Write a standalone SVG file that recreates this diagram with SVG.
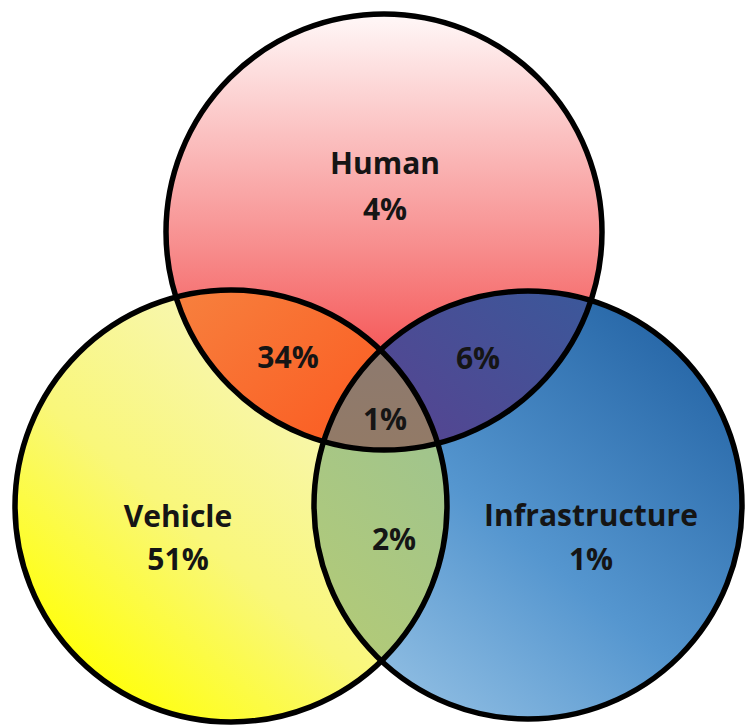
<svg xmlns="http://www.w3.org/2000/svg" width="745" height="725" viewBox="0 0 745 725">
<style>
.lbl{font-family:"Open Sans","Liberation Sans",sans-serif;font-weight:bold;font-size:30px;fill:#151515;text-anchor:middle}
.ring{fill:none;stroke:#000;stroke-width:5.5}
</style>
<defs>
<linearGradient id="gH" x1="0" y1="0" x2="0" y2="1">
<stop offset="0" stop-color="#fff8f8"/><stop offset="0.55" stop-color="#f78a8a"/><stop offset="1" stop-color="#f42a2a"/>
</linearGradient>
<linearGradient id="gV" x1="0.85" y1="0.15" x2="0.2" y2="0.9">
<stop offset="0" stop-color="#f7f6c8"/><stop offset="0.6" stop-color="#f9f77a"/><stop offset="1" stop-color="#ffff10"/>
</linearGradient>
<linearGradient id="gI" x1="0.85" y1="0.15" x2="0.2" y2="0.95">
<stop offset="0" stop-color="#2a6aaa"/><stop offset="0.55" stop-color="#5596cf"/><stop offset="1" stop-color="#8fbde2"/>
</linearGradient>
<linearGradient id="gHV" x1="0" y1="0" x2="0.8" y2="1">
<stop offset="0" stop-color="#f5904a"/><stop offset="1" stop-color="#ff3a08"/>
</linearGradient>
<linearGradient id="gHI" x1="1" y1="0" x2="0.2" y2="1">
<stop offset="0" stop-color="#30609e"/><stop offset="1" stop-color="#6e3288"/>
</linearGradient>
<linearGradient id="gVI" x1="1" y1="0" x2="0" y2="1">
<stop offset="0" stop-color="#86bcae"/><stop offset="1" stop-color="#b8cc70"/>
</linearGradient>
<linearGradient id="gHVI" x1="0" y1="0" x2="0" y2="1">
<stop offset="0" stop-color="#8a7a74"/><stop offset="0.7" stop-color="#9a7a5a"/><stop offset="1" stop-color="#8a9a80"/>
</linearGradient>
<clipPath id="cH"><circle cx="384" cy="232" r="218"/></clipPath>
<clipPath id="cV"><circle cx="231" cy="506" r="216"/></clipPath>
<clipPath id="cI"><circle cx="528" cy="505" r="214"/></clipPath>
</defs>
<rect width="745" height="725" fill="#fff"/>
<g id="vehicle"><circle cx="231" cy="506" r="216" fill="url(#gV)"/></g>
<g id="infrastructure"><circle cx="528" cy="505" r="214" fill="url(#gI)"/></g>
<g id="human"><circle cx="384" cy="232" r="218" fill="url(#gH)"/></g>
<g id="human-vehicle" clip-path="url(#cH)"><circle cx="231" cy="506" r="216" fill="url(#gHV)"/></g>
<g id="human-infrastructure" clip-path="url(#cH)"><circle cx="528" cy="505" r="214" fill="url(#gHI)"/></g>
<g id="vehicle-infrastructure" clip-path="url(#cV)"><circle cx="528" cy="505" r="214" fill="url(#gVI)"/></g>
<g id="all-three" clip-path="url(#cH)"><g clip-path="url(#cV)"><circle cx="528" cy="505" r="214" fill="url(#gHVI)"/></g></g>
<g id="outlines">
<circle class="ring" cx="384" cy="232" r="218"/>
<circle class="ring" cx="231" cy="506" r="216"/>
<circle class="ring" cx="528" cy="505" r="214"/>
</g>
<g id="labels">
<text class="lbl" x="385" y="174">Human</text>
<text class="lbl" x="385" y="220">4%</text>
<text class="lbl" x="288" y="368">34%</text>
<text class="lbl" x="478" y="369">6%</text>
<text class="lbl" x="385" y="430">1%</text>
<text class="lbl" x="178" y="527">Vehicle</text>
<text class="lbl" x="178" y="570">51%</text>
<text class="lbl" x="394" y="550">2%</text>
<text class="lbl" x="591" y="526">Infrastructure</text>
<text class="lbl" x="591" y="570">1%</text>
</g>
</svg>
